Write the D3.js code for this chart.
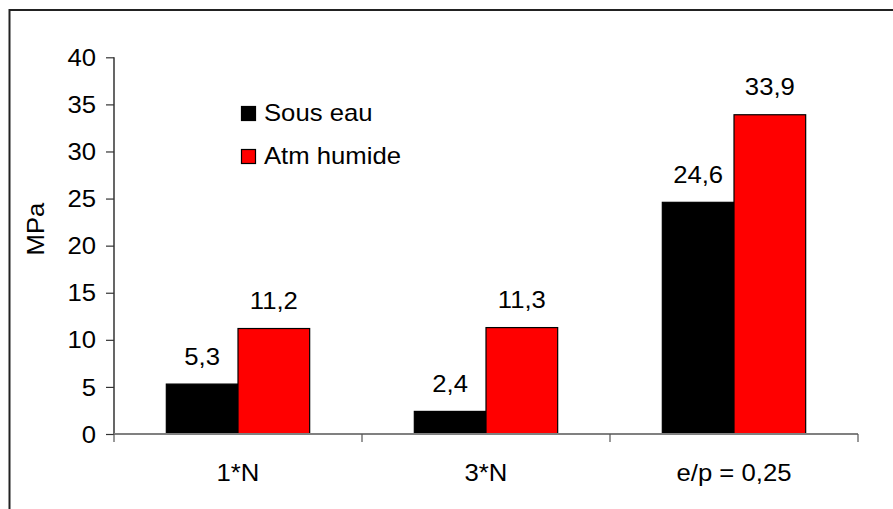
<!DOCTYPE html>
<html>
<head>
<meta charset="utf-8">
<script src="https://cdn.jsdelivr.net/npm/d3@7"></script>
<style>
  html, body { margin: 0; padding: 0; background: #fff; }
  svg { display: block; }
  text { font-family: "Liberation Sans", Arial, sans-serif; fill: #000; }
</style>
</head>
<body>
<svg id="chart" width="893" height="509"></svg>
<script>
// Tensile strength (MPa) by specimen type and curing condition
const categories = ["1*N", "3*N", "e/p = 0,25"];
const seriesNames = ["Sous eau", "Atm humide"];
const sousEau = [5.3, 2.4, 24.6];
const atmHumide = [11.2, 11.3, 33.9];
const yTicks = [0, 5, 10, 15, 20, 25, 30, 35, 40];
const seriesColors = ["#000000", "#ff0000"];

const fmt = v => String(v).replace(".", ",");
const FS = 24;           // font size
const SX = 1.07;         // slight horizontal stretch of the text

const svg = d3.select("#chart");

// outer frame
svg.append("rect")
  .attr("x", 9.5).attr("y", 10)
  .attr("width", 900).attr("height", 520)
  .attr("fill", "none").attr("stroke", "#222").attr("stroke-width", 2);

const plotLeft = 114, plotRight = 858, plotTop = 57.3, plotBottom = 434;

const y = d3.scaleLinear().domain([0, 40]).range([plotBottom, plotTop]);
const x0 = d3.scaleBand().domain(categories).range([plotLeft, plotRight]).padding(0);
const x1 = d3.scaleBand().domain(seriesNames).range([0, x0.bandwidth()])
  .paddingInner(0).paddingOuter(0.73);

const rows = categories.map((c, i) => ({
  cat: c,
  vals: [
    { name: seriesNames[0], v: sousEau[i], color: seriesColors[0] },
    { name: seriesNames[1], v: atmHumide[i], color: seriesColors[1] }
  ]
}));

function stretch(sel) {
  sel.each(function () {
    const t = d3.select(this);
    const tx = +t.attr("x") || 0, ty = +t.attr("y") || 0;
    t.attr("x", null).attr("y", null)
     .attr("transform", `translate(${tx},${ty}) scale(${SX},1)`);
  });
}

// y axis
const yAxis = svg.append("g")
  .attr("transform", `translate(${plotLeft},0)`)
  .call(d3.axisLeft(y).tickValues(yTicks).tickSize(8).tickPadding(10).tickFormat(d => d));
yAxis.select(".domain").attr("stroke", "#000").attr("stroke-width", 1.2)
  .attr("d", `M0,${plotTop}V${plotBottom}`);
yAxis.selectAll(".tick line").attr("stroke", "#333").attr("stroke-width", 1.2);
yAxis.selectAll(".tick text")
  .attr("font-size", FS).attr("font-family", null).attr("fill", "#000")
  .attr("dy", "0.34em")
  .each(function () {
    const t = d3.select(this);
    const tx = +t.attr("x");
    t.attr("x", null).attr("transform", `translate(${tx},0) scale(${SX},1)`);
  });

// bars
const groups = svg.append("g").selectAll("g")
  .data(rows).join("g")
  .attr("transform", d => `translate(${x0(d.cat)},0)`);

groups.selectAll("rect")
  .data(d => d.vals).join("rect")
  .attr("x", d => x1(d.name))
  .attr("y", d => y(d.v))
  .attr("width", x1.bandwidth())
  .attr("height", d => y(0) - y(d.v))
  .attr("fill", d => d.color)
  .attr("stroke", "#000").attr("stroke-width", 1.2);

// value labels
groups.selectAll("text")
  .data(d => d.vals).join("text")
  .attr("x", d => x1(d.name) + x1.bandwidth() / 2)
  .attr("y", d => y(d.v) - 19.5)
  .attr("text-anchor", "middle")
  .attr("font-size", FS)
  .text(d => fmt(d.v))
  .call(stretch);

// x axis (drawn over the bar bottoms)
const xAxis = svg.append("g").attr("transform", `translate(0,${plotBottom})`);
xAxis.append("line")
  .attr("x1", plotLeft).attr("x2", plotRight).attr("y1", 0).attr("y2", 0)
  .attr("stroke", "#808080").attr("stroke-width", 2);
const bounds = categories.map(c => x0(c)).concat([plotRight]);
xAxis.selectAll("line.tk").data(bounds).join("line")
  .attr("class", "tk")
  .attr("x1", d => d).attr("x2", d => d)
  .attr("y1", 0).attr("y2", 8)
  .attr("stroke", "#555").attr("stroke-width", 1.2);
xAxis.selectAll("text").data(categories).join("text")
  .attr("x", d => x0(d) + x0.bandwidth() / 2)
  .attr("y", 47)
  .attr("text-anchor", "middle")
  .attr("font-size", FS)
  .text(d => d)
  .call(stretch);

// y axis title
svg.append("text")
  .attr("transform", `translate(44,229) rotate(-90) scale(${SX},1)`)
  .attr("text-anchor", "middle")
  .attr("font-size", FS)
  .text("MPa");

// legend
const legend = svg.append("g").attr("transform", "translate(241,106)");
const items = legend.selectAll("g").data(seriesNames).join("g")
  .attr("transform", (d, i) => `translate(0,${i * 43})`);
items.append("rect")
  .attr("x", 0.5).attr("y", 0.5).attr("width", 14).attr("height", 14)
  .attr("fill", (d, i) => seriesColors[i])
  .attr("stroke", "#000").attr("stroke-width", 1.2);
items.append("text")
  .attr("x", 23).attr("y", 15)
  .attr("font-size", FS)
  .text(d => d)
  .call(stretch);
</script>
</body>
</html>
